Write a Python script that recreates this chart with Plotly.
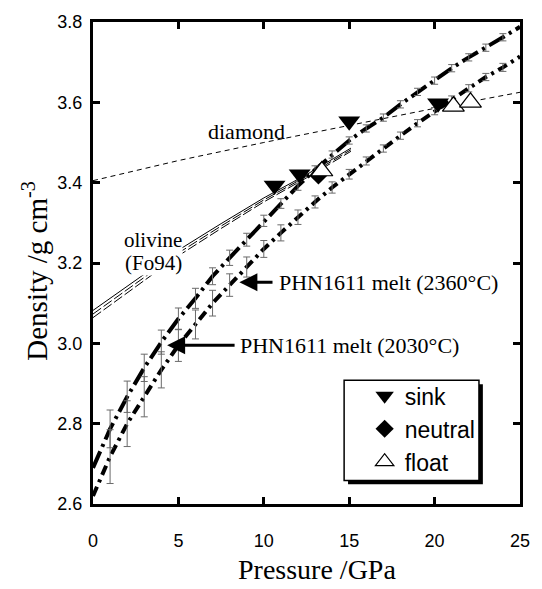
import plotly.graph_objects as go

# ---------------- data ----------------
pressure = list(range(0, 26))

melt_2030 = [2.69, 2.787, 2.867, 2.939, 3.003, 3.061, 3.112, 3.167, 3.213, 3.258,
             3.305, 3.348, 3.392, 3.432, 3.470, 3.505, 3.535, 3.562, 3.595, 3.626,
             3.654, 3.685, 3.712, 3.736, 3.762, 3.788]
err_2030 = [0, 0.047, 0.039, 0.034, 0.030, 0.027, 0.025, 0.021, 0.019, 0.016,
            0.014, 0.012, 0.011, 0.010, 0.009, 0.009, 0.009, 0.009, 0.009, 0.009,
            0.009, 0.009, 0.009, 0.009, 0.009, 0]

melt_2360 = [2.62, 2.718, 2.800, 2.867, 2.934, 2.995, 3.047, 3.100, 3.145, 3.190,
             3.235, 3.275, 3.314, 3.352, 3.388, 3.421, 3.454, 3.485, 3.517, 3.548,
             3.578, 3.607, 3.635, 3.663, 3.687, 3.714]
err_2360 = [0, 0.067, 0.057, 0.050, 0.045, 0.040, 0.036, 0.032, 0.028, 0.025,
            0.021, 0.020, 0.018, 0.015, 0.014, 0.012, 0.010, 0.009, 0.009, 0.009,
            0.009, 0.009, 0.009, 0.009, 0.010, 0]

diamond_p = [0, 5, 10, 15, 20, 25]
diamond_rho = [3.405, 3.455, 3.500, 3.543, 3.585, 3.625]

olivine_p = [0, 2.5, 5, 7.5, 10, 12.5, 15.1]
olivine_a = [3.082, 3.157, 3.232, 3.298, 3.362, 3.420, 3.486]
olivine_b = [3.073, 3.149, 3.225, 3.292, 3.357, 3.416, 3.482]
olivine_c = [3.064, 3.141, 3.218, 3.286, 3.352, 3.412, 3.478]

sink_p = [10.63, 12.1, 15.0, 20.2]
sink_rho = [3.393, 3.421, 3.553, 3.598]
neutral_p = [13.2]
neutral_rho = [3.418]
float_p = [13.4, 21.1, 22.1]
float_rho = [3.429, 3.590, 3.600]

x_ticks = [0, 5, 10, 15, 20, 25]
y_ticks = [2.6, 2.8, 3.0, 3.2, 3.4, 3.6, 3.8]

SERIF = "Liberation Serif, Times New Roman, serif"
SANS = "Liberation Sans, Arial, sans-serif"

fig = go.Figure()

# diamond reference line
fig.add_trace(go.Scatter(x=diamond_p, y=diamond_rho, mode="lines",
                         line=dict(color="black", width=1, dash="5px,4px"),
                         showlegend=False, hoverinfo="skip"))
# olivine lines
fig.add_trace(go.Scatter(x=olivine_p, y=olivine_a, mode="lines",
                         line=dict(color="black", width=1), showlegend=False))
fig.add_trace(go.Scatter(x=olivine_p, y=olivine_b, mode="lines",
                         line=dict(color="black", width=1, dash="10px,3px"), showlegend=False))
fig.add_trace(go.Scatter(x=olivine_p, y=olivine_c, mode="lines",
                         line=dict(color="black", width=1, dash="10px,3px"), showlegend=False))

# melt curves
fig.add_trace(go.Scatter(x=pressure, y=melt_2030, mode="lines",
                         line=dict(color="black", width=4, dash="18px,5px,3px,5px"),
                         showlegend=False))
fig.add_trace(go.Scatter(x=pressure, y=melt_2360, mode="lines",
                         line=dict(color="black", width=4, dash="10px,5px,3px,5px"),
                         showlegend=False))
# error bars
for rho, err in ((melt_2030, err_2030), (melt_2360, err_2360)):
    fig.add_trace(go.Scatter(x=pressure[1:-1], y=rho[1:-1], mode="markers",
                             marker=dict(size=1, color="rgba(0,0,0,0)"),
                             error_y=dict(type="data", array=err[1:-1], visible=True,
                                          color="#6a6a6a", thickness=1, width=3.5),
                             showlegend=False))

# experiment symbols
fig.add_trace(go.Scatter(x=sink_p, y=sink_rho, mode="markers", name="sink",
                         marker=dict(symbol="triangle-down", size=19, color="black",
                                     line=dict(width=0))))
fig.add_trace(go.Scatter(x=neutral_p, y=neutral_rho, mode="markers", name="neutral",
                         marker=dict(symbol="diamond", size=14, color="black",
                                     line=dict(width=0))))
fig.add_trace(go.Scatter(x=float_p, y=float_rho, mode="markers", name="float",
                         marker=dict(symbol="triangle-up", size=19, color="white",
                                     line=dict(width=1.2, color="black"))))


def px2x(px):
    return (px - 93) / 437.0


def px2y(py):
    return (504 - py) / 491.0


shapes = [
    dict(type="rect", xref="paper", yref="paper", x0=px2x(354), x1=px2x(492),
         y0=px2y(382), y1=px2y(484), fillcolor="black", line=dict(width=0), layer="above"),
    dict(type="rect", xref="paper", yref="paper", x0=px2x(350), x1=px2x(488),
         y0=px2y(378), y1=px2y(480), fillcolor="white", line=dict(width=1.5, color="black"),
         layer="above"),
]

annotations = [
    dict(x=8.97, y=3.528, text="diamond", showarrow=False,
         font=dict(family=SERIF, size=22, color="black")),
    dict(x=3.54, y=3.258, text="olivine", showarrow=False, bgcolor="white", borderpad=0,
         font=dict(family=SERIF, size=21, color="black")),
    dict(x=3.54, y=3.201, text="(Fo94)", showarrow=False, bgcolor="white", borderpad=0,
         font=dict(family=SERIF, size=21, color="black")),
    # labelled arrows: text box starts at the arrow tail, arrow points at the curve
    dict(x=8.57, y=3.152, ax=10.51, ay=3.152, axref="x", ayref="y",
         text="PHN1611 melt (2360°C)", xanchor="left", borderpad=5,
         showarrow=True, arrowhead=2, arrowsize=1.2, arrowwidth=3, arrowcolor="black",
         standoff=0, font=dict(family=SERIF, size=22, color="black")),
    dict(x=4.34, y=2.995, ax=8.29, ay=2.995, axref="x", ayref="y",
         text="PHN1611 melt (2030°C)", xanchor="left", borderpad=4,
         showarrow=True, arrowhead=2, arrowsize=1.2, arrowwidth=3, arrowcolor="black",
         standoff=0, font=dict(family=SERIF, size=22, color="black")),
    # axis titles
    dict(xref="paper", yref="paper", x=px2x(322), y=px2y(571), xanchor="center",
         yanchor="middle", text="Pressure /GPa", showarrow=False,
         font=dict(family=SERIF, size=28, color="black")),
    dict(xref="paper", yref="paper", x=px2x(34), y=px2y(266), xanchor="center",
         yanchor="middle", textangle=-90, text="Density /g cm<sup>-3</sup>",
         showarrow=False, font=dict(family=SERIF, size=29, color="black")),
]

fig.update_layout(
    width=542, height=589,
    margin=dict(l=93, r=12, t=13, b=85),
    paper_bgcolor="white", plot_bgcolor="white",
    shapes=shapes, annotations=annotations,
    legend=dict(x=px2x(371), y=px2y(372), xanchor="left", yanchor="top",
                bgcolor="rgba(0,0,0,0)", borderwidth=0,
                font=dict(family=SANS, size=23, color="black"),
                itemwidth=30, tracegroupgap=0),
    xaxis=dict(range=[0, 25], tickvals=x_ticks, ticktext=[str(v) for v in x_ticks],
               ticks="inside", ticklen=7, tickwidth=3, tickcolor="black",
               showline=True, linewidth=3, linecolor="black", mirror="ticks",
               showgrid=False, zeroline=False,
               tickfont=dict(family=SANS, size=18, color="black"),
               ticklabelstandoff=18),
    yaxis=dict(range=[2.6, 3.8], tickvals=y_ticks, ticktext=[f"{v:.1f}" for v in y_ticks],
               ticks="inside", ticklen=7, tickwidth=3, tickcolor="black",
               showline=True, linewidth=3, linecolor="black", mirror="ticks",
               showgrid=False, zeroline=False,
               tickfont=dict(family=SANS, size=18, color="black"),
               ticklabelstandoff=4),
)

fig.write_html("out.html")
